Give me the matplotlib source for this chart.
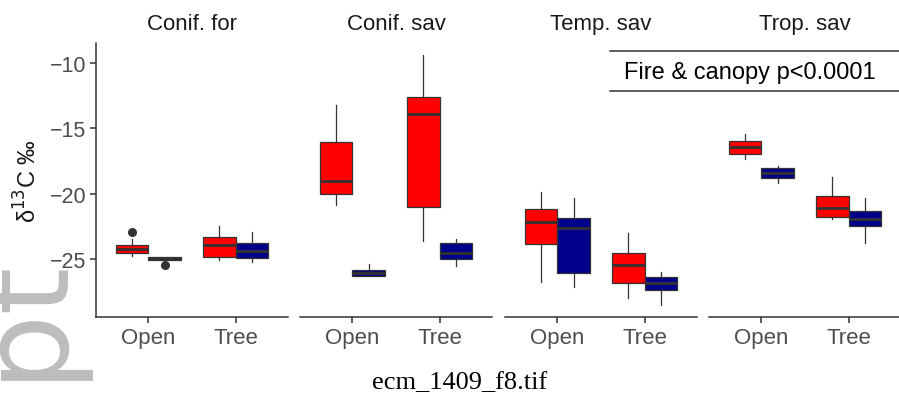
import matplotlib.pyplot as plt
from matplotlib.lines import Line2D

plt.rcParams['font.family'] = ['Liberation Sans', 'DejaVu Sans']

biomes = ["Conif. for", "Conif. sav", "Temp. sav", "Trop. sav"]
canopy = ["Open", "Tree"]
fire_colors = ["#ff0000", "#00008b"]

# per biome: Open-red, Open-blue, Tree-red, Tree-blue
med = [-24.2, -24.95, -23.9, -24.4,
       -19.0, -26.05, -13.9, -24.5,
       -22.2, -22.6, -25.45, -26.85,
       -16.45, -18.4, -21.1, -21.9]
q1 = [-24.5, -25.05, -24.85, -24.9,
      -20.0, -26.3, -21.0, -25.0,
      -23.85, -26.05, -26.85, -27.35,
      -16.95, -18.8, -21.8, -22.5]
q3 = [-23.9, -24.85, -23.3, -23.8,
      -16.05, -25.8, -12.6, -23.8,
      -21.2, -21.85, -24.55, -26.4,
      -15.95, -18.05, -20.2, -21.35]
whislo = [-24.8, -25.05, -25.1, -25.2,
          -20.9, -26.3, -23.6, -25.5,
          -26.75, -27.1, -28.0, -28.5,
          -17.35, -19.2, -21.95, -23.8]
whishi = [-23.5, -24.85, -22.5, -22.9,
          -13.2, -25.4, -9.4, -23.5,
          -19.9, -20.35, -23.0, -26.0,
          -15.4, -17.9, -18.7, -20.35]
outliers = [[-22.95], [-25.45], [], [],
            [], [], [], [],
            [], [], [], [],
            [], [], [], []]

yticks = [-10, -15, -20, -25]

W, H = 899, 414
fig = plt.figure(figsize=(W / 100, H / 100), dpi=100)

# watermark remnants on the left
fig.text(58 / W, 1 - 380 / H, "pt", rotation=90, rotation_mode='anchor',
         ha='left', va='baseline', fontsize=88, color="#bdbdbd",
         family='DejaVu Sans', zorder=0)

edge = "#333333"
panel_left = [96, 300, 505, 709]
panel_w = 192
top, bottom = 44, 318

for b, name in enumerate(biomes):
    ax = fig.add_axes([panel_left[b] / W, 1 - bottom / H, panel_w / W, (bottom - top) / H])
    ax.patch.set_alpha(0)
    for c in range(2):
        for f in range(2):
            i = b * 4 + c * 2 + f
            stats = [dict(med=med[i], q1=q1[i], q3=q3[i], whislo=whislo[i],
                          whishi=whishi[i], fliers=outliers[i])]
            pos = c + 1 + (f - 0.5) * 0.375
            ax.bxp(stats, positions=[pos], widths=0.375, patch_artist=True,
                   showcaps=False,
                   boxprops=dict(facecolor=fire_colors[f], edgecolor=edge, linewidth=0.9),
                   medianprops=dict(color=edge, linewidth=2.0),
                   whiskerprops=dict(color=edge, linewidth=0.9),
                   flierprops=dict(marker='o', markerfacecolor=edge, markeredgecolor=edge,
                                   markersize=5.5))
    ax.set_xlim(0.4, 2.6)
    ax.set_ylim(-29.43, -8.47)
    ax.set_xticks([1, 2])
    ax.set_xticklabels(canopy, fontsize=16, color="#4d4d4d")
    for s in ['top', 'right']:
        ax.spines[s].set_visible(False)
    ax.spines['bottom'].set_color("#333333")
    ax.spines['bottom'].set_linewidth(1.1)
    ax.tick_params(axis='x', length=4, width=1.1, color="#333333", pad=3)
    if b == 0:
        ax.set_yticks(yticks)
        ax.set_yticklabels([f"\u2212{abs(t)}" for t in yticks], fontsize=15.5, color="#4d4d4d")
        ax.tick_params(axis='y', length=4, width=1.1, color="#333333", pad=3)
        ax.spines['left'].set_color("#333333")
        ax.spines['left'].set_linewidth(1.1)
        ax.set_ylabel("\u03b4$^{13}$C \u2030", fontsize=17, color="#1a1a1a", labelpad=6)
    else:
        ax.spines['left'].set_visible(False)
        ax.set_yticks([])
    ax.set_title(name, fontsize=16, color="#1a1a1a", pad=10)

# annotation strip
fig.add_artist(Line2D([610 / W, 1], [1 - 52 / H] * 2, color="#333333", lw=1.1))
fig.add_artist(Line2D([610 / W, 1], [1 - 92 / H] * 2, color="#333333", lw=1.1))
fig.text(750 / W, 1 - 73 / H, "Fire & canopy p<0.0001", ha='center', va='center',
         fontsize=17, color="black")

fig.text(460 / W, 1 - 383 / H, "ecm_1409_f8.tif", ha='center', va='center',
         fontsize=19, family='Liberation Serif', color="black")

fig.savefig("out.png", dpi=100)
